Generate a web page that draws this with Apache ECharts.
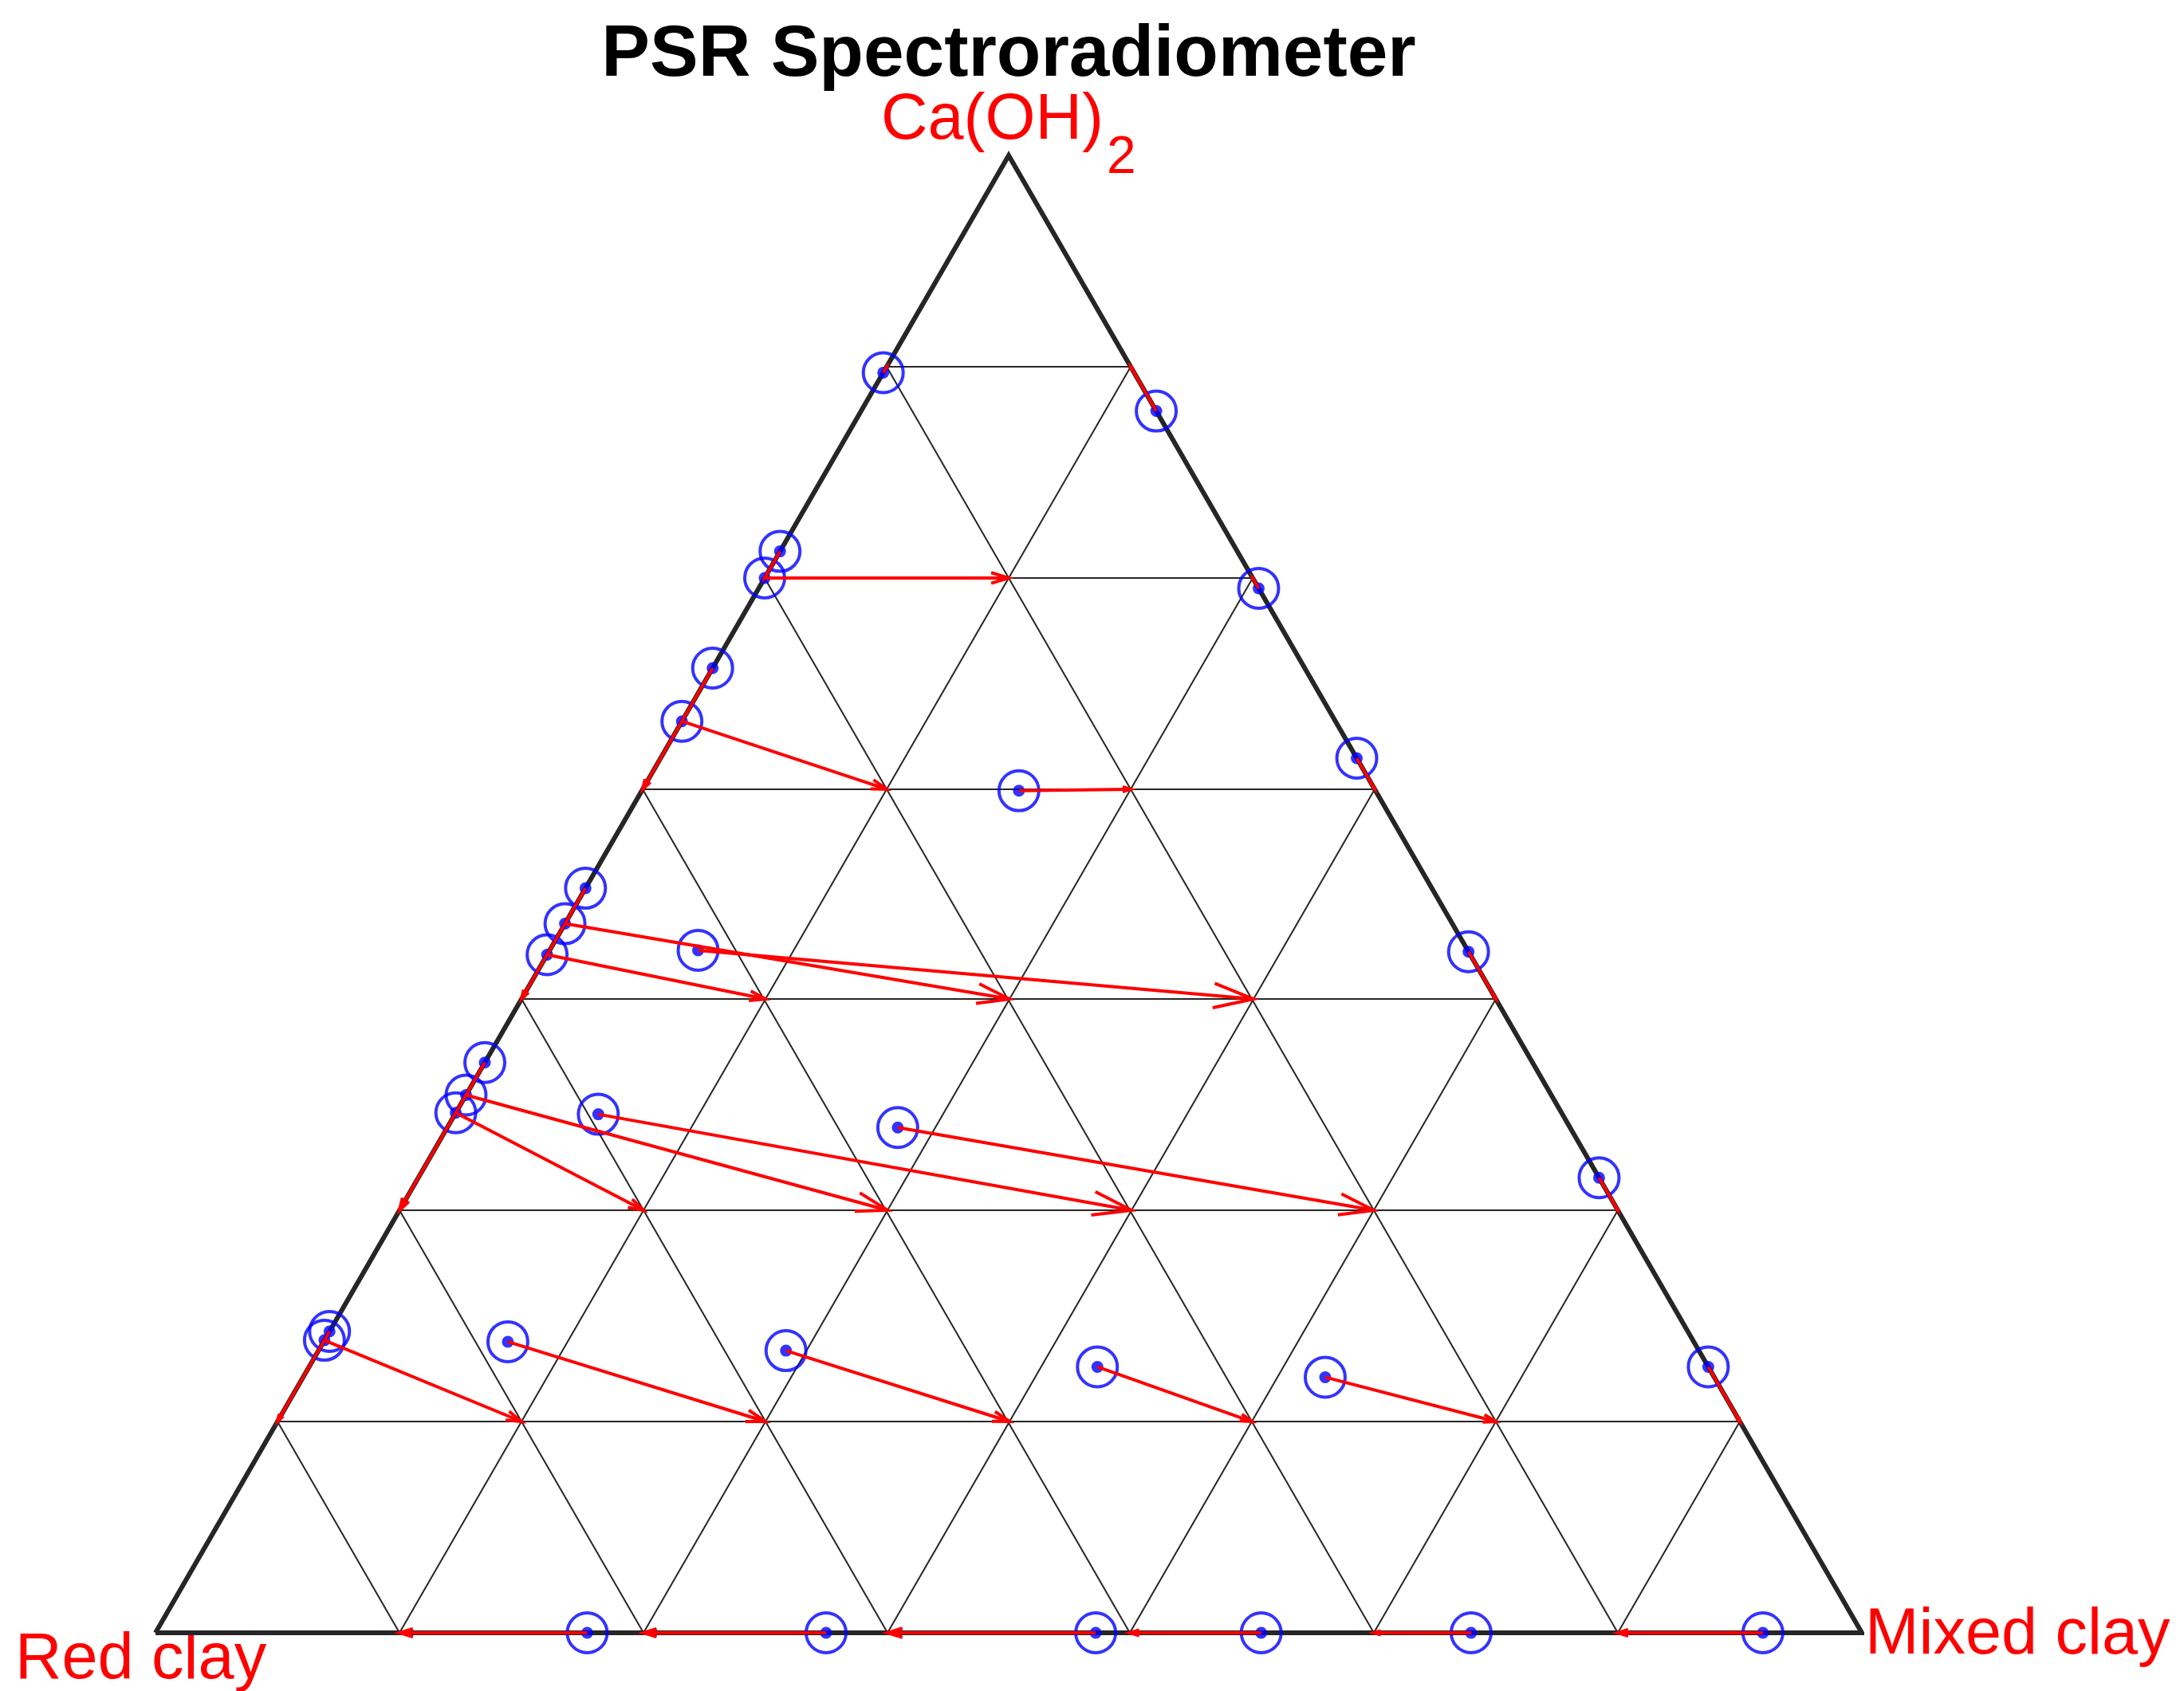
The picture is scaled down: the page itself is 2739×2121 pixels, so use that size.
<!DOCTYPE html>
<html>
<head>
<meta charset="utf-8">
<script src="https://cdn.jsdelivr.net/npm/echarts@6/dist/echarts.min.js"></script>
<style>
html, body { margin: 0; padding: 0; background: #fff; }
#main { width: 2739px; height: 2121px; }
</style>
</head>
<body>
<div id="main"></div>
<script>
// ternary grid levels (sevenths)
var gridTicks = [0.143, 0.286, 0.429, 0.571, 0.714, 0.857];

// true mixtures: Ca(OH)2 and mixed clay fractions (red clay = rest)
var caTrue  = [0.857, 0.857,
               0.714, 0.714, 0.714,
               0.571, 0.571, 0.571, 0.571,
               0.429, 0.429, 0.429, 0.429, 0.429,
               0.286, 0.286, 0.286, 0.286, 0.286, 0.286,
               0.143, 0.143, 0.143, 0.143, 0.143, 0.143, 0.143,
               0, 0, 0, 0, 0, 0];
var mixTrue = [0, 0.143,
               0, 0.143, 0.286,
               0, 0.143, 0.286, 0.429,
               0, 0.143, 0.286, 0.429, 0.571,
               0, 0.143, 0.286, 0.429, 0.571, 0.714,
               0, 0.143, 0.286, 0.429, 0.571, 0.714, 0.857,
               0.143, 0.286, 0.429, 0.571, 0.714, 0.857];

// spectroradiometer estimates
var caPred  = [0.853, 0.827,
               0.732, 0.714, 0.707,
               0.653, 0.617, 0.570, 0.592,
               0.504, 0.459, 0.480, 0.462, 0.461,
               0.386, 0.352, 0.364, 0.351, 0.342, 0.308,
               0.204, 0.198, 0.197, 0.191, 0.180, 0.173, 0.180,
               0, 0, 0, 0, 0, 0];
var mixPred = [0, 0.173,
               0, 0, 0.293,
               0, 0, 0.221, 0.408,
               0, 0, 0, 0.087, 0.539,
               0, 0, 0, 0.084, 0.264, 0.692,
               0, 0, 0.108, 0.274, 0.462, 0.599, 0.820,
               0.253, 0.393, 0.551, 0.648, 0.771, 0.942];

var H = Math.sqrt(3) / 2;
function toXY(mix, ca) { return [mix + ca / 2, ca * H]; }

var gridSegs = [];
gridTicks.forEach(function (t) {
    gridSegs.push({ coords: [toXY(0, t), toXY(1 - t, t)] });
    gridSegs.push({ coords: [toXY(t, 0), toXY(t, 1 - t)] });
    gridSegs.push({ coords: [toXY(1 - t, 0), toXY(0, 1 - t)] });
});

var predPts = caPred.map(function (c, i) { return toXY(mixPred[i], c); });
var arrowData = caPred.map(function (c, i) {
    var p = toXY(mixPred[i], c), q = toXY(mixTrue[i], caTrue[i]);
    return [p[0], p[1], q[0], q[1]];
});

var font = 'Liberation Sans, Arial, sans-serif';
var myChart = echarts.init(document.getElementById('main'));

var option = {
    backgroundColor: '#fff',
    animation: false,
    grid: { left: 195, top: 195, width: 2140, height: 1853 },
    xAxis: { type: 'value', min: 0, max: 1, show: false },
    yAxis: { type: 'value', min: 0, max: H, show: false },
    graphic: [
        { type: 'text', x: 1265, y: 70, style: { text: 'PSR Spectroradiometer', font: 'bold 91px ' + font, fill: '#000', align: 'center', verticalAlign: 'middle' } },
        { type: 'text', x: 1105, y: 152, style: { text: 'Ca(OH)', font: '81px ' + font, fill: '#ff0000', align: 'left', verticalAlign: 'middle' } },
        { type: 'text', x: 1388, y: 199, style: { text: '2', font: '66px ' + font, fill: '#ff0000', align: 'left', verticalAlign: 'middle' } },
        { type: 'text', x: 19, y: 2083, style: { text: 'Red clay', font: '81px ' + font, fill: '#ff0000', align: 'left', verticalAlign: 'middle' } },
        { type: 'text', x: 2339, y: 2052, style: { text: 'Mixed clay', font: '81px ' + font, fill: '#ff0000', align: 'left', verticalAlign: 'middle' } }
    ],
    series: [
        {
            type: 'lines',
            coordinateSystem: 'cartesian2d',
            data: gridSegs,
            lineStyle: { color: '#262626', width: 2, opacity: 1 },
            silent: true,
            z: 1
        },
        {
            type: 'line',
            data: [toXY(0, 0), toXY(1, 0), toXY(0, 1), toXY(0, 0)],
            symbol: 'none',
            clip: false,
            lineStyle: { color: '#262626', width: 6, join: 'miter' },
            silent: true,
            z: 2
        },
        {
            type: 'scatter',
            data: predPts,
            symbol: 'circle',
            symbolSize: 50,
            clip: false,
            itemStyle: { color: 'rgba(0,0,0,0)', borderColor: '#0000ff', borderWidth: 4 },
            z: 3
        },
        {
            type: 'scatter',
            data: predPts,
            symbol: 'circle',
            symbolSize: 15,
            clip: false,
            itemStyle: { color: '#0000ff' },
            z: 4
        },
        {
            type: 'custom',
            data: arrowData,
            encode: { x: [0, 2], y: [1, 3] },
            clip: false,
            z: 5,
            renderItem: function (params, api) {
                var a = api.coord([api.value(0), api.value(1)]);
                var b = api.coord([api.value(2), api.value(3)]);
                var dx = b[0] - a[0], dy = b[1] - a[1];
                var len = Math.sqrt(dx * dx + dy * dy);
                var hl = len * 0.075, ang = Math.atan2(dy, dx), sp = 17 * Math.PI / 180;
                var h1 = [b[0] - hl * Math.cos(ang - sp), b[1] - hl * Math.sin(ang - sp)];
                var h2 = [b[0] - hl * Math.cos(ang + sp), b[1] - hl * Math.sin(ang + sp)];
                var st = { stroke: '#ff0000', lineWidth: 4, fill: 'none' };
                return {
                    type: 'group',
                    children: [
                        { type: 'polyline', shape: { points: [a, b] }, style: st },
                        { type: 'polyline', shape: { points: [h1, b, h2] }, style: st }
                    ]
                };
            }
        }
    ]
};

myChart.setOption(option);
</script>
</body>
</html>
